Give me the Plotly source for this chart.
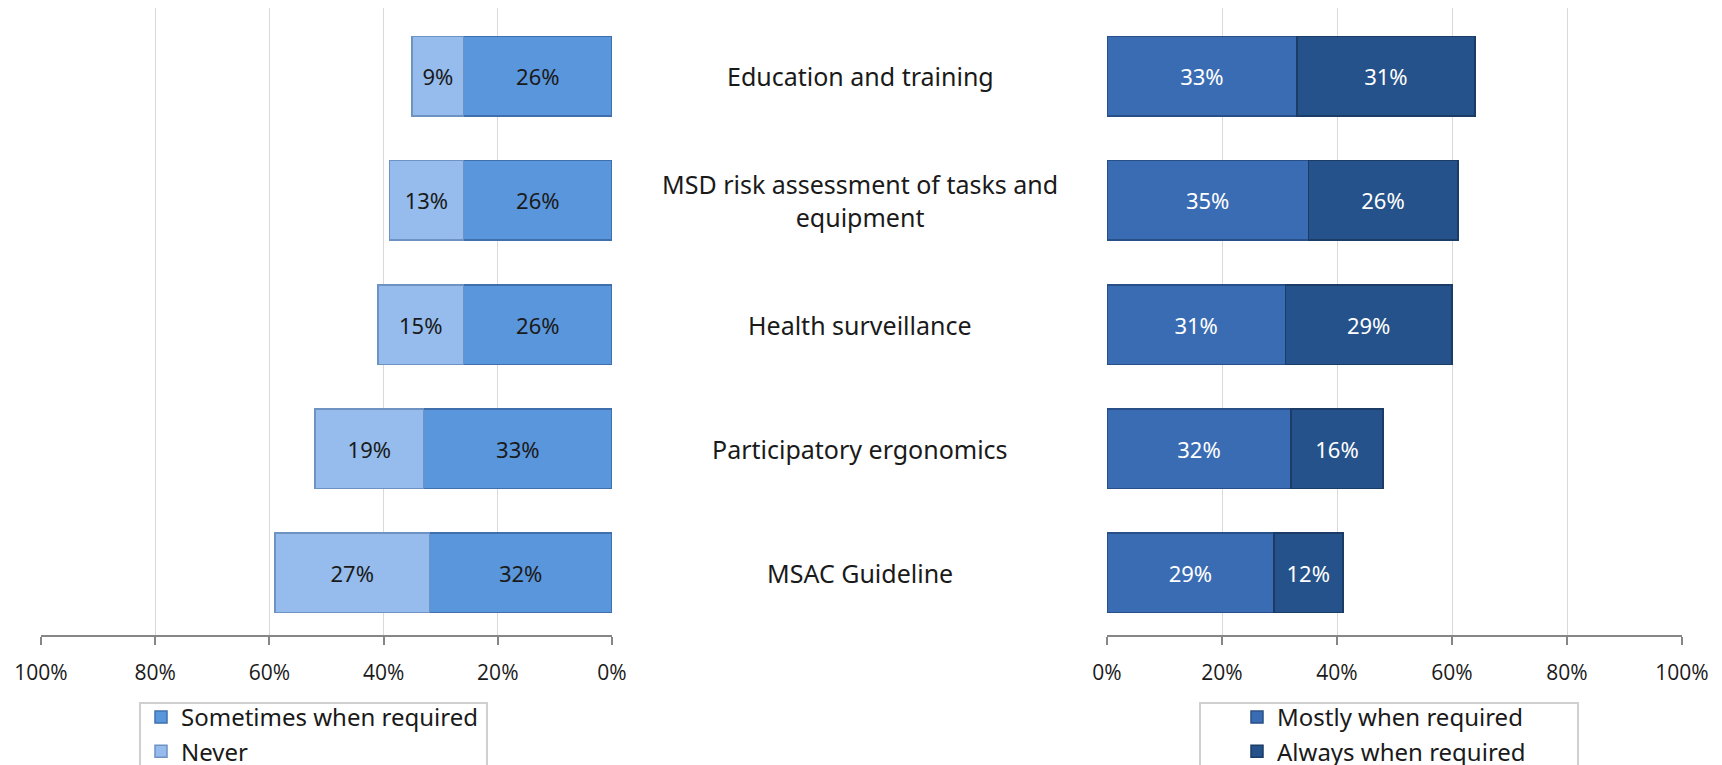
import plotly.graph_objects as go

# categories, top to bottom
categories = [
    "Education and training",
    "MSD risk assessment of tasks and equipment",
    "Health surveillance",
    "Participatory ergonomics",
    "MSAC Guideline",
]
category_labels = [
    "Education and training",
    "MSD risk assessment of tasks and<br>equipment",
    "Health surveillance",
    "Participatory ergonomics",
    "MSAC Guideline",
]

# left side (percent)
sometimes = [26, 26, 26, 33, 32]
never = [9, 13, 15, 19, 27]

# right side (percent)
mostly = [33, 35, 31, 32, 29]
always = [31, 26, 29, 16, 12]

tick_vals = [0, 20, 40, 60, 80, 100]
tick_text = ["0%", "20%", "40%", "60%", "80%", "100%"]

W, H = 1722, 765
BODY = 8  # default page margin around the plot div
LABEL_FONT = "Noto Sans"
TICK_FONT = "Open Sans"


# page pixel -> paper fraction
def px_x(p):
    return (p - BODY) / W


def px_y(p):
    return 1 - (p - BODY) / H


def pct(vals):
    return [f"{v}%" for v in vals]


fig = go.Figure()

fig.add_trace(go.Bar(
    y=categories, x=sometimes, orientation="h", name="Sometimes when required",
    xaxis="x", yaxis="y", legend="legend",
    marker=dict(color="#5A96DC", line=dict(color="#3F70AD", width=1.5)),
    text=pct(sometimes), textposition="inside", insidetextanchor="middle",
    textfont=dict(family=LABEL_FONT, size=22, color="#1a1a1a"),
))
fig.add_trace(go.Bar(
    y=categories, x=never, orientation="h", name="Never",
    xaxis="x", yaxis="y", legend="legend",
    marker=dict(color="#95BCEC", line=dict(color="#6E93C2", width=1.5)),
    text=pct(never), textposition="inside", insidetextanchor="middle",
    textfont=dict(family=LABEL_FONT, size=22, color="#1a1a1a"),
))
fig.add_trace(go.Bar(
    y=categories, x=mostly, orientation="h", name="Mostly when required",
    xaxis="x2", yaxis="y2", legend="legend2",
    marker=dict(color="#3A6CB4", line=dict(color="#284F88", width=1.5)),
    text=pct(mostly), textposition="inside", insidetextanchor="middle",
    textfont=dict(family=LABEL_FONT, size=22, color="white"),
))
fig.add_trace(go.Bar(
    y=categories, x=always, orientation="h", name="Always when required",
    xaxis="x2", yaxis="y2", legend="legend2",
    marker=dict(color="#25528A", line=dict(color="#1A3C66", width=1.5)),
    text=pct(always), textposition="inside", insidetextanchor="middle",
    textfont=dict(family=LABEL_FONT, size=22, color="white"),
))

for cat, lab in zip(categories, category_labels):
    fig.add_annotation(
        x=px_x(860), xref="paper", y=cat, yref="y",
        text=lab, showarrow=False, align="center",
        font=dict(family=LABEL_FONT, size=25, color="#1a1a1a"),
    )

axis_common = dict(
    tickvals=tick_vals, ticktext=tick_text, showgrid=True, gridcolor="#D9D9D9",
    gridwidth=1, zeroline=False, showline=True, linecolor="#868686", linewidth=2,
    ticks="outside", ticklen=8, tickwidth=2, tickcolor="#868686",
    tickfont=dict(family=TICK_FONT, size=21, color="#1a1a1a"),
    ticklabelstandoff=10, fixedrange=True, automargin=False,
)
yaxis_common = dict(
    categoryorder="array", categoryarray=categories, range=[4.5, -0.55],
    showticklabels=False, showgrid=False, zeroline=False, showline=False,
    domain=[px_y(635), 1.0], automargin=False,
)

# legend boxes
fig.add_shape(type="rect", xref="paper", yref="paper",
              x0=px_x(140), x1=px_x(487), y0=px_y(768), y1=px_y(703),
              line=dict(color="#D0D0D0", width=2))
fig.add_shape(type="rect", xref="paper", yref="paper",
              x0=px_x(1200), x1=px_x(1578), y0=px_y(772), y1=px_y(703),
              line=dict(color="#D0D0D0", width=2))

legend_font = dict(family=LABEL_FONT, size=24, color="#1a1a1a")
fig.update_layout(
    width=W, height=H,
    margin=dict(l=0, r=0, t=0, b=0, autoexpand=False),
    paper_bgcolor="white", plot_bgcolor="white",
    barmode="stack", bargap=0.36,
    xaxis=dict(domain=[px_x(41), px_x(612)], range=[100, 0], anchor="y", **axis_common),
    xaxis2=dict(domain=[px_x(1107), px_x(1682)], range=[0, 100], anchor="y2", **axis_common),
    yaxis=dict(anchor="x", **yaxis_common),
    yaxis2=dict(anchor="x2", **yaxis_common),
    legend=dict(x=px_x(141), y=px_y(695), xanchor="left", yanchor="top",
                bgcolor="rgba(0,0,0,0)", traceorder="normal",
                font=legend_font, itemwidth=30, tracegroupgap=0),
    legend2=dict(x=px_x(1237), y=px_y(695), xanchor="left", yanchor="top",
                 bgcolor="rgba(0,0,0,0)", traceorder="normal",
                 font=legend_font, itemwidth=30, tracegroupgap=0),
    showlegend=True,
)

fig.write_html("out.html")
